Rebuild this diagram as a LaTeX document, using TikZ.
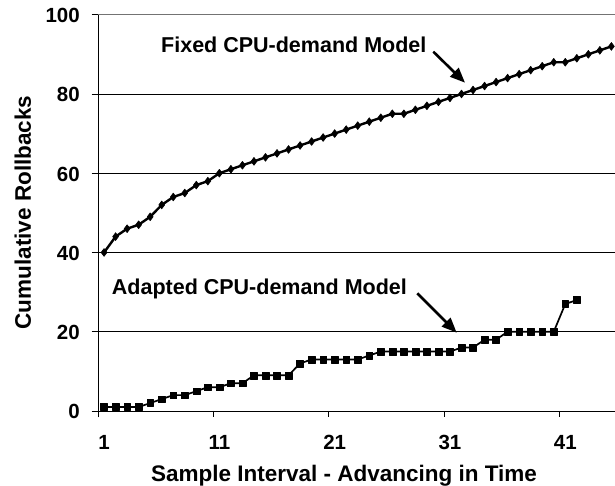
\documentclass[tikz,border=0pt]{standalone}
\usepackage{fontspec}
\setmainfont{Liberation Sans}
\usetikzlibrary{arrows.meta,plotmarks}
\begin{document}
\begin{tikzpicture}[x=1pt,y=1pt,
  ticklbl/.style={font=\fontsize{20.5}{23}\selectfont\bfseries, inner sep=0pt},
  annlbl/.style={font=\fontsize{21.5}{24}\selectfont\bfseries, inner sep=0pt},
  axttl/.style={font=\fontsize{22.5}{26}\selectfont\bfseries, inner sep=0pt},
  gridln/.style={line width=0.9pt, black},
  axisln/.style={line width=0.9pt, black},
  series/.style={line width=2.4pt, black, line join=round},
  pointer/.style={line width=2.6pt, black, -{Triangle[length=15pt,width=12pt]}}
]
\useasboundingbox (0,0) rectangle (615,486);
% gridlines
\foreach \v in {20,40,60,80} {
  \draw[gridln] (98.3,{75+3.963*\v}) -- (615,{75+3.963*\v});
}
\draw[gridln, black!55] (98.3,471.3) -- (615,471.3);
% axes
\draw[axisln] (98.3,68.5) -- (98.3,471.3);
\draw[axisln] (98.3,75) -- (615,75);
\foreach \v in {0,20,40,60,80,100} {
  \draw[axisln] (91.7,{75+3.963*\v}) -- (98.3,{75+3.963*\v});
  \node[ticklbl, anchor=east] (y\v) at (80,{75+3.963*\v-0.8}) {\v};
}
\foreach \k in {1,2,3,4} {
  \draw[axisln] ({98.3+115.3*\k},75) -- ({98.3+115.3*\k},68.5);
}
\foreach \c in {1,11,21,31,41} {
  \node[ticklbl, anchor=base] (x\c) at ({98.3+(\c-0.5)*11.53},36) {\c};
}
% axis titles
\node[axttl, anchor=base] (xttl) at (344,4.3) {Sample Interval - Advancing in Time};
\node[axttl, anchor=base, rotate=90] (yttl) at (31,273.5) {Cumulative Rollbacks};
% data
\begin{scope}[shift={(92.535,75)}, x=11.53pt, y=3.963pt]
\draw[series] plot[mark=diamond*, mark size=3.9pt, mark options={solid,fill=black,line width=0.6pt}] coordinates {(1,40)(2,44)(3,46)(4,47)(5,49)(6,52)(7,54)(8,55)(9,57)(10,58)(11,60)(12,61)(13,62)(14,63)(15,64)(16,65)(17,66)(18,67)(19,68)(20,69)(21,70)(22,71)(23,72)(24,73)(25,74)(26,75)(27,75)(28,76)(29,77)(30,78)(31,79)(32,80)(33,81)(34,82)(35,83)(36,84)(37,85)(38,86)(39,87)(40,88)(41,88)(42,89)(43,90)(44,91)(45,92)};
\draw[series, line width=1.7pt] plot[mark=square*, mark size=3.4pt, mark options={solid,fill=black,line width=0.4pt}] coordinates {(1,1)(2,1)(3,1)(4,1)(5,2)(6,3)(7,4)(8,4)(9,5)(10,6)(11,6)(12,7)(13,7)(14,9)(15,9)(16,9)(17,9)(18,12)(19,13)(20,13)(21,13)(22,13)(23,13)(24,14)(25,15)(26,15)(27,15)(28,15)(29,15)(30,15)(31,15)(32,16)(33,16)(34,18)(35,18)(36,20)(37,20)(38,20)(39,20)(40,20)(41,27)(42,28)};
\end{scope}
% annotations
\node[annlbl, anchor=base west] (fixedlbl) at (161,433.3) {Fixed CPU-demand Model};
\node[annlbl, anchor=base west] (adaptlbl) at (111.7,191) {Adapted CPU-demand Model};
\coordinate (fixtail) at (433.3,434.3);
\coordinate (fixtip) at (465,403.3);
\coordinate (adatail) at (417.3,192.7);
\coordinate (adatip) at (456.7,153.3);
\draw[pointer] (fixtail) -- (fixtip);
\draw[pointer] (adatail) -- (adatip);
\end{tikzpicture}
\end{document}
